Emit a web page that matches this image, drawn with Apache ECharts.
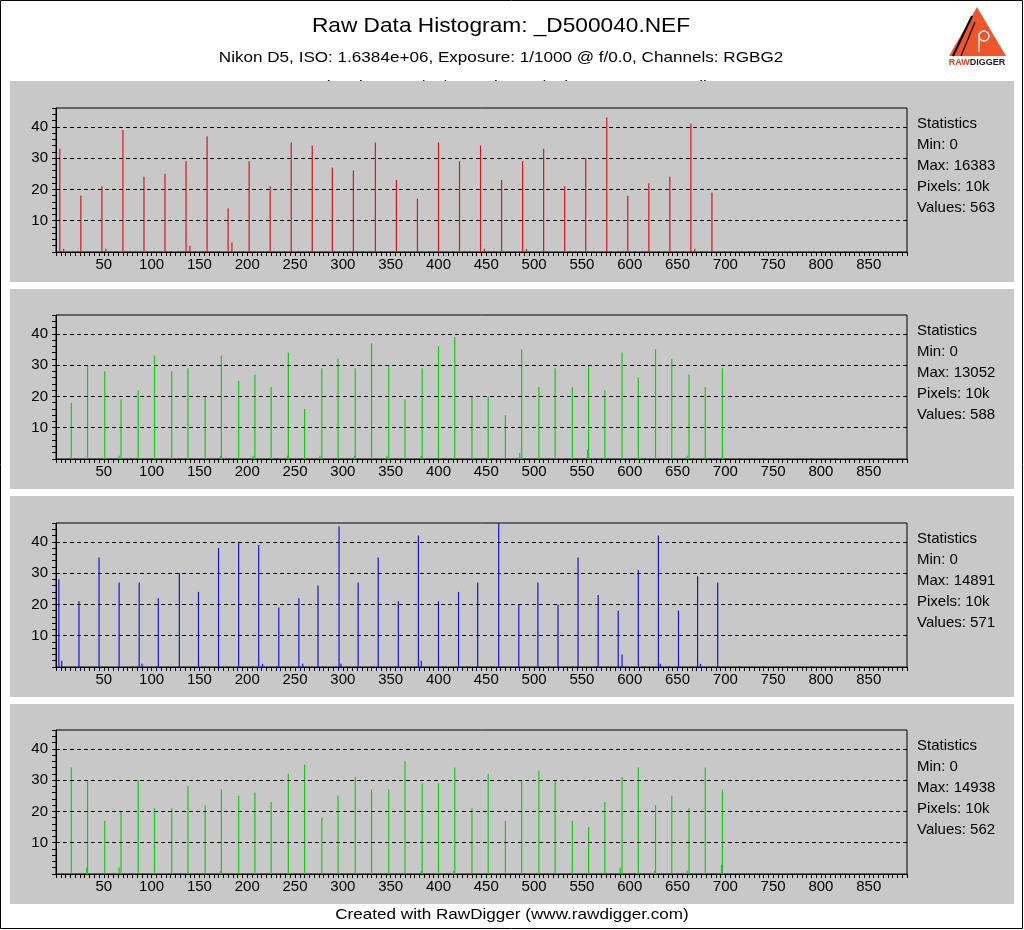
<!DOCTYPE html>
<html><head><meta charset="utf-8">
<script src="https://cdn.jsdelivr.net/npm/echarts@6/dist/echarts.min.js"></script>
<style>html,body{margin:0;padding:0;background:#fff}#c{width:1024px;height:930px}</style>
</head><body><div id="c"></div>
<script>
// ---------- text ----------
const titleText = 'Raw Data Histogram: _D500040.NEF';
const subtitleText = 'Nikon D5, ISO: 1.6384e+06, Exposure: 1/1000 @ f/0.0, Channels: RGBG2';
const hiddenLineText = 'Scale: Linear,  Black Level: 0,  Black Max: 0,  Sum: All';
const footerText = 'Created with RawDigger (www.rawdigger.com)';

// ---------- axes ----------
const xTickLabels = [50,100,150,200,250,300,350,400,450,500,550,600,650,700,750,800,850];
const yTickLabels = [10,20,30,40];
const xMax = 890;
const yMax = 46;

// ---------- data (raw value, pixel count) ----------
const rX = [4,8,26,48,52,70,92,114,136,140,158,180,184,202,224,246,268,289,311,334,356,378,400,422,444,448,466,488,492,510,532,554,576,598,620,642,664,668,686];
const rY = [33,1,18,21,1,39,24,25,29,2,37,14,3,29,21,35,34,27,26,35,23,17,35,29,34,1,23,29,1,33,21,30,43,18,22,24,41,1,19];

const g1X = [16,33,51,66,68,86,103,121,138,156,172,173,191,206,208,225,242,243,260,276,278,295,312,313,330,346,348,365,382,383,400,417,435,452,470,485,487,505,522,540,556,557,574,592,609,627,644,660,662,679,697];
const g1Y = [18,30,28,1,19,22,33,28,29,20,1,33,25,1,27,23,1,34,16,1,29,32,1,29,37,1,30,19,1,29,36,39,20,20,14,2,35,23,29,23,3,30,22,34,26,35,32,1,27,23,29];

const bX = [3,6,24,45,66,87,90,107,129,149,170,191,212,216,233,254,258,274,296,298,316,337,358,379,382,400,421,441,463,484,504,525,546,567,588,592,609,630,632,651,671,674,692];
const bY = [28,2,21,35,27,27,1,22,30,24,38,40,39,1,19,22,1,26,45,1,27,35,21,42,2,21,24,27,46,20,27,20,35,23,18,4,31,42,1,18,29,1,27];

const g2X = [16,32,33,51,66,68,86,103,121,138,156,172,173,191,208,225,243,260,278,295,313,330,348,365,382,383,400,416,417,435,452,470,487,505,522,540,557,574,590,592,609,626,627,644,660,662,679,696,697];
const g2Y = [34,2,30,17,2,20,30,21,21,28,22,1,27,25,26,23,32,35,18,25,31,27,27,36,1,29,29,1,34,21,32,17,30,33,30,17,15,23,2,31,34,1,22,25,1,21,34,3,27];

// ---------- statistics ----------
const statsMin = [0,0,0,0];
const statsMax = [16383,13052,14891,14938];
const statsPixels = ['10k','10k','10k','10k'];
const statsValues = [563,588,571,562];

// ---------- layout / style ----------
const FONT = '"Liberation Sans", Arial, sans-serif';
const channelX = [rX, g1X, bX, g2X];
const channelY = [rY, g1Y, bY, g2Y];
const colors = ['#e01414', '#14cc14', '#1414e0', '#14cc14'];
const plotTops = [108, 315, 523, 730];
const panelRects = [[10,81,1004,201],[10,289,1004,200],[10,496,1004,201],[10,704,1004,200]];
const plotLeft = 56, plotW = 851, plotH = 144;

const grids = [], xAxes = [], yAxes = [], series = [];
const graphic = [];

graphic.push({type:'rect', shape:{x:0.5,y:0.5,width:1022,height:928}, style:{fill:'#fff', stroke:'#000', lineWidth:1}, z:-30});
graphic.push({type:'text', x:502, y:79, scaleX:1.14, style:{text:hiddenLineText, font:'15px '+FONT, fill:'#000', textAlign:'center', textVerticalAlign:'top'}, z:-20});
panelRects.forEach(r => graphic.push({type:'rect', shape:{x:r[0],y:r[1],width:r[2],height:r[3]}, style:{fill:'#c8c8c8'}, z:-10}));
graphic.push({type:'text', x:501, y:26, scaleX:1.08, style:{text:titleText, font:'21px '+FONT, fill:'#000', textAlign:'center', textVerticalAlign:'middle'}});
graphic.push({type:'text', x:501, y:58, scaleX:1.14, style:{text:subtitleText, font:'15px '+FONT, fill:'#000', textAlign:'center', textVerticalAlign:'middle'}});
graphic.push({type:'text', x:512, y:915, scaleX:1.14, style:{text:footerText, font:'15px '+FONT, fill:'#000', textAlign:'center', textVerticalAlign:'middle'}});

// logo
graphic.push({type:'polygon', shape:{points:[[977,7],[949,56],[1006,56]]}, style:{fill:'#f0542a'}});
graphic.push({type:'line', shape:{x1:972,y1:16,x2:953,y2:56}, style:{stroke:'#000', lineWidth:2}});
graphic.push({type:'line', shape:{x1:975,y1:22,x2:961,y2:56}, style:{stroke:'#000', lineWidth:1.2}});
graphic.push({type:'circle', shape:{cx:984,cy:36,r:5}, style:{fill:'none', stroke:'#fff', lineWidth:1.3}});
graphic.push({type:'line', shape:{x1:979,y1:33,x2:979,y2:52}, style:{stroke:'#fff', lineWidth:1.3}});
graphic.push({type:'text', x:977, y:63, style:{text:'{r|RAW}{k|DIGGER}', textAlign:'center', textVerticalAlign:'middle', rich:{r:{fill:'#e0401a', font:'bold 9px '+FONT}, k:{fill:'#222', font:'bold 9px '+FONT}}}});

for (let i = 0; i < 4; i++) {
  grids.push({left: plotLeft, top: plotTops[i], width: plotW, height: plotH, show: true,
    borderColor: '#000', borderWidth: 1, backgroundColor: 'transparent'});
  xAxes.push({type:'value', gridIndex:i, min:0, max:xMax, interval:5,
    axisLine:{show:true, onZero:false, lineStyle:{color:'#000', width:1}},
    axisTick:{show:true, length:4, lineStyle:{color:'#000'}},
    axisLabel:{color:'#000', fontSize:15, fontFamily:FONT, margin:5,
      formatter: v => xTickLabels.includes(v) ? String(v) : ''},
    splitLine:{show:false}});
  yAxes.push({type:'value', gridIndex:i, min:0, max:yMax, interval:2,
    axisLine:{show:true, lineStyle:{color:'#000', width:1}},
    axisTick:{show:true, length:4, lineStyle:{color:'#000'}},
    axisLabel:{color:'#000', fontSize:15, fontFamily:FONT, margin:8,
      formatter: v => yTickLabels.includes(v) ? String(v) : ''},
    splitLine:{show:false}});
  const xs = channelX[i], ys = channelY[i];
  series.push({type:'bar', name:'ch'+i, xAxisIndex:i, yAxisIndex:i, barWidth:1.2,
    data: xs.map((x, j) => [x, ys[j]]),
    itemStyle:{color: colors[i]},
    markLine:{silent:true, symbol:'none', label:{show:false},
      lineStyle:{color:'#000', type:[4,3], width:1},
      data: yTickLabels.map(v => ({yAxis: v}))},
    z: 3});
  const sx = 917, sy = plotTops[i] + 16, lh = 21;
  const lines = ['Statistics', 'Min: ' + statsMin[i], 'Max: ' + statsMax[i], 'Pixels: ' + statsPixels[i], 'Values: ' + statsValues[i]];
  lines.forEach((t, k) => graphic.push({type:'text', x:sx, y:sy + k*lh,
    style:{text:t, font:'15px '+FONT, fill:'#000', textAlign:'left', textVerticalAlign:'middle'}}));
}

const chart = echarts.init(document.getElementById('c'), null, {renderer:'canvas'});
chart.setOption({
  backgroundColor:'#fff', animation:false,
  grid: grids, xAxis: xAxes, yAxis: yAxes, series: series, graphic: graphic
});
</script></body></html>
